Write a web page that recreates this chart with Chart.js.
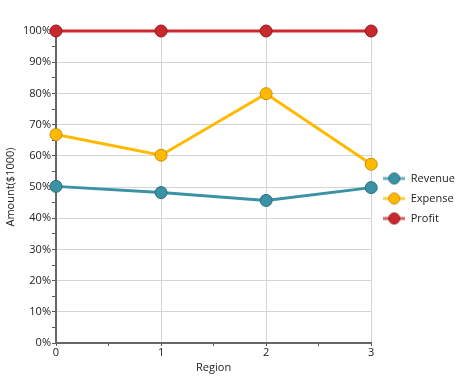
<!DOCTYPE html>
<html>
<head>
<meta charset="utf-8">
<script src="https://cdn.jsdelivr.net/npm/chart.js@4"></script>
<style>
  html, body { margin: 0; padding: 0; background: #fff; }
  #wrap { width: 462px; height: 386px; }
</style>
</head>
<body>
<div id="wrap"><canvas id="chart"></canvas></div>
<script>
// data (percent of total)
const regions = [0, 1, 2, 3];
const revenue = [50.2, 48.2, 45.7, 49.8];
const expense = [66.8, 60.2, 79.9, 57.3];
const profit = [100, 100, 100, 100];

const seriesNames = ['Revenue', 'Expense', 'Profit'];
const seriesColors = ['#3a92a5', '#ffba00', '#c9282e'];
const seriesBorders = ['#2b6d7b', '#c48f06', '#93191e'];

// little line + dot symbol for the legend
function legendSymbol(color, border) {
    let c = document.createElement('canvas');
    c.width = 22; c.height = 14;
    let ctx = c.getContext('2d');
    ctx.strokeStyle = color;
    ctx.globalAlpha = 0.75;
    ctx.lineWidth = 3;
    ctx.beginPath();
    ctx.moveTo(0, 7); ctx.lineTo(22, 7);
    ctx.stroke();
    ctx.globalAlpha = 1;
    ctx.fillStyle = color;
    ctx.strokeStyle = border;
    ctx.lineWidth = 1;
    ctx.beginPath();
    ctx.arc(11, 7, 5.5, 0, Math.PI * 2);
    ctx.fill();
    ctx.stroke();
    return c;
}

function makeData(values) {
    return values.map((v, i) => ({ x: regions[i], y: v }));
}

const allValues = [revenue, expense, profit];
const datasets = allValues.map((vals, i) => ({
    label: seriesNames[i],
    data: makeData(vals),
    borderColor: seriesColors[i],
    backgroundColor: seriesColors[i],
    pointBackgroundColor: seriesColors[i],
    pointBorderColor: seriesBorders[i],
    pointBorderWidth: 1,
    pointRadius: 6,
    borderWidth: 3,
    tension: 0,
    pointStyle: 'circle'
}));

const symbols = seriesNames.map((n, i) => legendSymbol(seriesColors[i], seriesBorders[i]));

const font = { family: "'Open Sans', 'Noto Sans', sans-serif", size: 11 };

// nudge the legend up a little, like the original
const legendNudge = {
    id: 'legendNudge',
    afterLayout(chart) {
        let lg = chart.legend;
        lg.top -= 4; lg.bottom -= 4;
        lg.left += 3; lg.right += 3;
    }
};

new Chart(document.getElementById('chart'), {
    type: 'line',
    data: { datasets: datasets },
    plugins: [legendNudge],
    options: {
        responsive: true,
        maintainAspectRatio: false,
        animation: false,
        clip: false,
        layout: { padding: { top: 31, right: 0, left: 0, bottom: 12 } },
        plugins: {
            tooltip: { enabled: false },
            legend: {
                position: 'right',
                align: 'center',
                labels: {
                    usePointStyle: true,
                    pointStyleWidth: 22,
                    padding: 9,
                    color: '#222',
                    font: { family: font.family, size: 11 },
                    generateLabels: (chart) => seriesNames.map((n, i) => ({
                        text: n,
                        pointStyle: symbols[i],
                        fillStyle: seriesColors[i],
                        strokeStyle: seriesColors[i],
                        lineWidth: 0,
                        datasetIndex: i,
                        fontColor: '#222'
                    }))
                }
            }
        },
        scales: {
            x: {
                type: 'linear',
                min: 0, max: 3,
                afterBuildTicks: (scale) => {
                    let t = [];
                    for (let v = 0; v <= 3; v += 0.5) t.push({ value: v });
                    scale.ticks = t;
                },
                afterFit: (scale) => { scale.height = 31; },
                ticks: {
                    color: '#222', font: font, padding: 0, maxRotation: 0, autoSkip: false,
                    callback: (v) => Number.isInteger(v) ? String(v) : ''
                },
                grid: {
                    color: (c) => (c.tick && Number.isInteger(c.tick.value)) ? '#d4d4d4' : 'rgba(0,0,0,0)',
                    tickColor: '#555',
                    tickLength: 3,
                    lineWidth: 1
                },
                border: { color: '#666', width: 2 },
                title: { display: true, text: 'Region', color: '#222', font: font, padding: { top: 2, bottom: 0 } }
            },
            y: {
                min: 0, max: 100,
                afterBuildTicks: (scale) => {
                    let t = [];
                    for (let v = 0; v <= 100; v += 5) t.push({ value: v });
                    scale.ticks = t;
                },
                afterFit: (scale) => { scale.width = 56; },
                ticks: {
                    color: '#222', font: font, padding: 1, autoSkip: false,
                    callback: (v) => (v % 10 === 0) ? v + '%' : ''
                },
                grid: {
                    color: (c) => (c.tick && c.tick.value % 10 === 0) ? '#d4d4d4' : 'rgba(0,0,0,0)',
                    tickColor: '#555',
                    tickLength: 4,
                    lineWidth: 1
                },
                border: { color: '#666', width: 2 },
                title: { display: true, text: 'Amount($1000)', color: '#222', font: font, padding: { bottom: 0 } }
            }
        }
    }
});
</script>
</body>
</html>
